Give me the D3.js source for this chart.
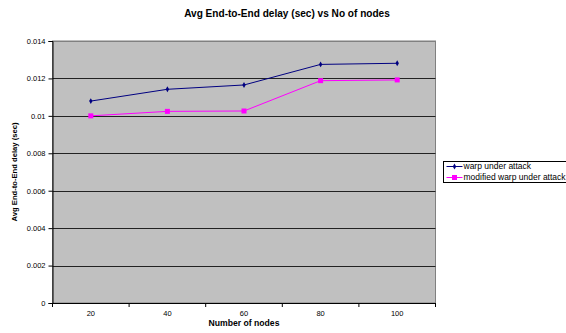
<!DOCTYPE html>
<html>
<head>
<meta charset="utf-8">
<script src="https://cdn.jsdelivr.net/npm/d3@7"></script>
<style>
  html, body { margin: 0; padding: 0; background: #fff; }
  svg { display: block; font-family: Arial, "Liberation Sans", sans-serif; }
</style>
</head>
<body>
<svg id="chart" width="566" height="333"></svg>
<script>
// Number of nodes (x categories)
const nodes = [20, 40, 60, 80, 100];
// Average end-to-end delay in seconds
const warpUnderAttack = [0.01079, 0.01142, 0.01165, 0.01275, 0.01281];
const modifiedWarpUnderAttack = [0.0100, 0.01024, 0.01026, 0.01188, 0.01192];
const yTicks = [0, 0.002, 0.004, 0.006, 0.008, 0.01, 0.012, 0.014];
const seriesNames = ["warp under attack", "modified warp under attack"];

const svg = d3.select("#chart");
const plot = { left: 52.5, right: 435.5, top: 41, bottom: 303 };

// scale a text element's font size so its rendered width equals `w`
function fitWidth(sel, w) {
  const fs = parseFloat(sel.attr("font-size"));
  const len = sel.node().getComputedTextLength();
  if (len > 0) sel.attr("font-size", (fs * w / len).toFixed(2));
  return sel;
}

const x = d3.scaleBand().domain(nodes).range([plot.left, plot.right]);
const y = d3.scaleLinear().domain([0, 0.014]).range([plot.bottom, plot.top]);

// plot area
svg.append("rect")
  .attr("x", plot.left).attr("y", plot.top)
  .attr("width", plot.right - plot.left).attr("height", plot.bottom - plot.top)
  .attr("fill", "#c0c0c0").attr("stroke", "#808080").attr("stroke-width", 1);

// horizontal gridlines
svg.append("g").selectAll("line").data(yTicks.filter(d => d > 0))
  .join("line")
  .attr("x1", plot.left).attr("x2", plot.right)
  .attr("y1", d => Math.round(y(d)) + 0.5).attr("y2", d => Math.round(y(d)) + 0.5)
  .attr("stroke", d => d === 0.014 ? "#808080" : "#222").attr("stroke-width", 1);

// y axis
const yAxis = svg.append("g")
  .attr("transform", `translate(${plot.left},0)`)
  .call(d3.axisLeft(y).tickValues(yTicks).tickSize(4).tickPadding(3)
    .tickFormat(d => d === 0 ? "0" : String(+d.toFixed(3))));
yAxis.select(".domain").attr("stroke", "#000");
yAxis.selectAll(".tick line").attr("stroke", "#000");
yAxis.selectAll("text").attr("font-size", 7.5).attr("fill", "#000");

// x axis with ticks on category boundaries
const xAxisG = svg.append("g").attr("transform", `translate(0,${plot.bottom})`);
xAxisG.append("line")
  .attr("x1", plot.left).attr("x2", plot.right)
  .attr("y1", 0.5).attr("y2", 0.5).attr("stroke", "#000");
const bounds = nodes.map(d => x(d)).concat([x(nodes[nodes.length - 1]) + x.bandwidth()]);
xAxisG.selectAll("line.tk").data(bounds).join("line").attr("class", "tk")
  .attr("x1", d => d).attr("x2", d => d).attr("y1", 0).attr("y2", 4).attr("stroke", "#000");
xAxisG.selectAll("text").data(nodes).join("text")
  .attr("x", d => x(d) + x.bandwidth() / 2).attr("y", 13)
  .attr("text-anchor", "middle").attr("font-size", 7.5).attr("fill", "#000")
  .text(d => d);

// series
const cx = d => x(d) + x.bandwidth() / 2;
const line = d3.line().x(d => cx(d[0])).y(d => y(d[1]));
const series = [
  { name: seriesNames[0], values: warpUnderAttack, color: "#000080", marker: "diamond" },
  { name: seriesNames[1], values: modifiedWarpUnderAttack, color: "#ff00ff", marker: "square" }
];
const diamond = d3.symbol().type(d3.symbolDiamond).size(10);

series.forEach(s => {
  const pts = nodes.map((n, i) => [n, s.values[i]]);
  svg.append("path").datum(pts)
    .attr("fill", "none").attr("stroke", s.color).attr("stroke-width", 1).attr("d", line);
  const g = svg.append("g");
  if (s.marker === "diamond") {
    g.selectAll("path").data(pts).join("path")
      .attr("d", diamond).attr("transform", d => `translate(${cx(d[0])},${y(d[1])})`)
      .attr("fill", s.color);
  } else {
    g.selectAll("rect").data(pts).join("rect")
      .attr("x", d => cx(d[0]) - 2.5).attr("y", d => y(d[1]) - 2.5)
      .attr("width", 5).attr("height", 5).attr("fill", s.color);
  }
});

// titles
fitWidth(svg.append("text").attr("x", 287).attr("y", 17).attr("text-anchor", "middle")
  .attr("font-size", 9).attr("font-weight", "bold").text("Avg End-to-End delay (sec) vs No of nodes"), 206);
fitWidth(svg.append("text").attr("x", (plot.left + plot.right) / 2).attr("y", 326).attr("text-anchor", "middle")
  .attr("font-size", 7.5).attr("font-weight", "bold").text("Number of nodes"), 71);
fitWidth(svg.append("text").attr("transform", "translate(17,172) rotate(-90)").attr("text-anchor", "middle")
  .attr("font-size", 7.5).attr("font-weight", "bold").text("Avg End-to-End delay (sec)"), 99);

// legend
const lg = svg.append("g").attr("transform", "translate(443.5,161.5)");
lg.append("rect").attr("width", 125).attr("height", 21).attr("fill", "#fff").attr("stroke", "#000");
const legendTexts = [];
series.forEach((s, i) => {
  const yy = 5 + i * 11;
  lg.append("line").attr("x1", 3).attr("x2", 19).attr("y1", yy).attr("y2", yy)
    .attr("stroke", s.color).attr("stroke-width", 1);
  if (s.marker === "diamond") {
    lg.append("path").attr("d", diamond).attr("transform", `translate(11,${yy})`).attr("fill", s.color);
  } else {
    lg.append("rect").attr("x", 8.5).attr("y", yy - 2.5).attr("width", 5).attr("height", 5).attr("fill", s.color);
  }
  legendTexts.push(lg.append("text").attr("x", 20).attr("y", yy + 2.8)
    .attr("font-size", 8.3).attr("fill", "#000").text(s.name));
});
// both legend labels share the size that makes the longer one fill the box
fitWidth(legendTexts[1], 102);
legendTexts[0].attr("font-size", legendTexts[1].attr("font-size"));
</script>
</body>
</html>
